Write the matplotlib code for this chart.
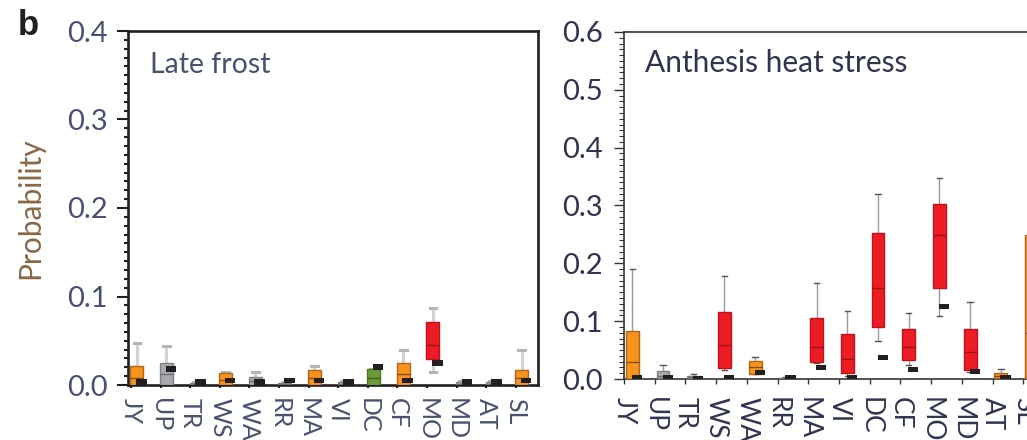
import numpy as np
import matplotlib
matplotlib.use("Agg")
import matplotlib.pyplot as plt
from matplotlib.ticker import MultipleLocator, FormatStrFormatter

# Regions
categories = ['JY', 'UP', 'TR', 'WS', 'WA', 'RR', 'MA', 'VI', 'DC', 'CF', 'MO', 'MD', 'AT', 'SL']

# Late frost: box statistics per region and observed probability
frost_lo   = [0.0,   0.0,   0.0,   0.0,   0.0,    0.0,   0.0,   0.0,   0.0,    0.0,    0.015,  0.0,   0.0,   0.0]
frost_q1   = [0.0,   0.0,   0.0,   0.0,   0.0,    0.0,   0.0,   0.0,   0.0,    0.0,    0.029,  0.0,   0.0,   0.0]
frost_med  = [0.008, 0.012, 0.001, 0.006, 0.004,  0.001, 0.008, 0.001, 0.008,  0.012,  0.045,  0.001, 0.001, 0.008]
frost_q3   = [0.0215,0.0245,0.002, 0.013, 0.0094, 0.002, 0.017, 0.003, 0.0177, 0.0245, 0.0708, 0.003, 0.003, 0.017]
frost_hi   = [0.048, 0.044, 0.003, 0.015, 0.015,  0.003, 0.022, 0.004, 0.0177, 0.040,  0.0866, 0.004, 0.004, 0.040]
frost_obs  = [0.003, 0.0177,0.003, 0.005, 0.003,  0.005, 0.005, 0.003, 0.0207, 0.005,  0.025,  0.003, 0.003, 0.005]
frost_cls  = ['o', 'g', 'g', 'o', 'g', 'g', 'o', 'g', 'v', 'o', 'r', 'g', 'g', 'o']

# Anthesis heat stress
heat_lo    = [0.0,   0.0,   0.0,   0.015, 0.008,  0.0,   0.028,  0.005,  0.066,  0.024,  0.1095, 0.012,  0.002, 0.0]
heat_q1    = [0.0,   0.002, 0.001, 0.0185,0.0086, 0.0,   0.030,  0.0098, 0.0905, 0.033,  0.157,  0.0156, 0.002, 0.0]
heat_med   = [0.030, 0.006, 0.003, 0.059, 0.020,  0.001, 0.056,  0.034,  0.158,  0.056,  0.249,  0.046,  0.006, 0.080]
heat_q3    = [0.0836,0.014, 0.005, 0.115, 0.0317, 0.002, 0.105,  0.077,  0.253,  0.0865, 0.302,  0.0865, 0.011, 0.249]
heat_hi    = [0.19,  0.024, 0.008, 0.178, 0.0375, 0.003, 0.1655, 0.118,  0.3195, 0.1137, 0.347,  0.1327, 0.017, 0.300]
heat_obs   = [0.002, 0.002, 0.001, 0.003, 0.011,  0.002, 0.020,  0.002,  0.0375, 0.017,  0.126,  0.0127, 0.002, 0.002]
heat_cls   = ['o', 'g', 'g', 'r', 'o', 'g', 'r', 'r', 'r', 'r', 'r', 'r', 'o', 'o']

palette = {
    'o': ('#f7941d', '#b0651c', '#8a4e12'),
    'g': ('#a7a9ac', '#808285', '#6d6e71'),
    'r': ('#ed1c24', '#c0141c', '#9e1118'),
    'v': ('#6d9b3a', '#4f7a28', '#3f6420'),
}
obs_color = '#231f20'

W, H = 1027, 440
fig = plt.figure(figsize=(W / 100, H / 100), dpi=100)

left_txt = '#485270'
right_txt = '#2f3450'
fam = ['Lato', 'DejaVu Sans']


def draw_panel(ax, lo, q1, med, q3, hi, obs, cls, box_off, box_w, obs_off, obs_w,
               obs_h, whisk_kw, cap_kw, capw):
    x = np.arange(len(categories))
    stats = [dict(whislo=a, q1=b, med=c, q3=d, whishi=e)
             for a, b, c, d, e in zip(lo, q1, med, q3, hi)]
    bp = ax.bxp(stats, positions=x + box_off, widths=box_w, patch_artist=True,
                showfliers=False, manage_ticks=False, capwidths=capw,
                whiskerprops=whisk_kw, capprops=cap_kw)
    for i, c in enumerate(cls):
        fill, edge, medc = palette[c]
        bp['boxes'][i].set_facecolor(fill)
        bp['boxes'][i].set_edgecolor(edge)
        bp['boxes'][i].set_linewidth(1.0)
        bp['medians'][i].set_color(medc)
        bp['medians'][i].set_linewidth(1.0)
        bp['boxes'][i].set_zorder(3)
        bp['medians'][i].set_zorder(3.5)
    obs = np.asarray(obs)
    ax.bar(x + obs_off, np.full(len(obs), obs_h), bottom=obs - obs_h / 2,
           width=obs_w, color=obs_color, zorder=4, linewidth=0)
    ax.set_xticks(x)
    ax.set_xticklabels(categories, rotation=270)
    ax.yaxis.set_major_locator(MultipleLocator(0.1))
    ax.yaxis.set_minor_locator(MultipleLocator(0.01))
    ax.yaxis.set_major_formatter(FormatStrFormatter('%.1f'))


# ---- Late frost panel
axl = fig.add_axes([128 / W, (H - 385) / H, 410 / W, 354 / H])
draw_panel(axl, frost_lo, frost_q1, frost_med, frost_q3, frost_hi, frost_obs, frost_cls,
           box_off=0.2, box_w=0.44, obs_off=0.35, obs_w=0.36, obs_h=0.0066,
           whisk_kw=dict(color='#d3d3d3', linewidth=2.2),
           cap_kw=dict(color='#b5b5b5', linewidth=2.2), capw=0.22)
axl.set_xlim(-0.1, 13.75)
axl.set_ylim(0, 0.4)
for s in axl.spines.values():
    s.set_color('#231f20')
    s.set_linewidth(1.9)
axl.tick_params(axis='y', which='major', length=8, width=1.5, pad=6.5,
                colors='#231f20', labelcolor=left_txt, labelsize=21)
axl.tick_params(axis='y', which='minor', length=3, width=1.5, colors='#231f20')
axl.tick_params(axis='x', which='major', length=2.5, width=1.5, pad=6.5,
                colors='#231f20', labelcolor=left_txt, labelsize=18)
for lab in axl.get_xticklabels() + axl.get_yticklabels():
    lab.set_fontfamily(fam)
axl.text(0.054, 0.881, 'Late frost', transform=axl.transAxes, fontsize=20.5,
         family=fam, color=left_txt, ha='left', va='baseline')

fig.text(30 / W, (H - 208) / H, 'Probability', rotation=90, ha='center', va='center',
         fontsize=21.5, family=fam, color='#8a6744')
fig.text(18 / W, (H - 35) / H, 'b', ha='left', va='baseline', fontsize=25,
         fontweight='bold', family=['Liberation Sans', 'DejaVu Sans'], color='#231f20')

# ---- Anthesis heat stress panel
axr = fig.add_axes([624 / W, (H - 379) / H, 430 / W, 347 / H])
draw_panel(axr, heat_lo, heat_q1, heat_med, heat_q3, heat_hi, heat_obs, heat_cls,
           box_off=0.27, box_w=0.42, obs_off=0.42, obs_w=0.33, obs_h=0.009,
           whisk_kw=dict(color='#9a9a9a', linewidth=1.0),
           cap_kw=dict(color='#555555', linewidth=1.0), capw=0.18)
axr.set_xlim(0, 14)
axr.set_ylim(0, 0.6)
for s in axr.spines.values():
    s.set_color('#333333')
    s.set_linewidth(1.2)
axr.tick_params(axis='y', which='major', length=7, width=1.0, pad=8,
                colors='#333333', labelcolor=right_txt, labelsize=21)
axr.tick_params(axis='y', which='minor', length=3.6, width=0.8, colors='#333333')
axr.tick_params(axis='x', which='major', length=3.6, width=1.0, pad=9,
                colors='#333333', labelcolor=right_txt, labelsize=19)
for lab in axr.get_xticklabels() + axr.get_yticklabels():
    lab.set_fontfamily(fam)
axr.text(0.0488, 0.8856, 'Anthesis heat stress', transform=axr.transAxes,
         fontsize=21.5, family=fam, color=right_txt, ha='left', va='baseline')

fig.savefig('out.png', dpi=100)
